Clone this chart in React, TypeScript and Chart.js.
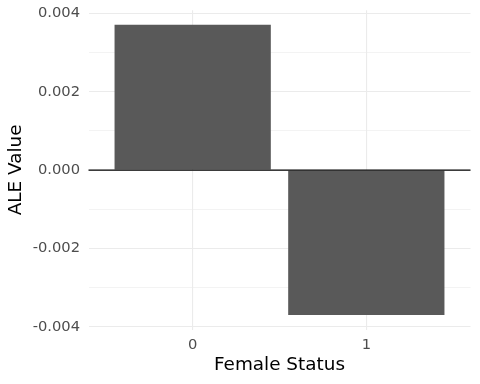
import React, { useEffect, useRef } from "react";
import { Chart, registerables } from "chart.js";

Chart.register(...registerables);

const categories: string[] = ["0", "1"];
const aleValues: number[] = [0.00371, -0.0037];
const yTickValues: number[] = [-0.004, -0.003, -0.002, -0.001, 0, 0.001, 0.002, 0.003, 0.004];
const yMin = -0.00407;
const yMax = 0.00408;
const xTitle = "Female Status";
const yTitle = "ALE Value";

const FONT = "'DejaVu Sans', sans-serif";
const GRID = "#EBEBEB";

const zeroLinePlugin = {
  id: "zeroLine",
  afterDatasetsDraw(chart: any) {
    const { ctx, chartArea, scales } = chart;
    const y = scales.y.getPixelForValue(0);
    ctx.save();
    ctx.strokeStyle = "#000000";
    ctx.lineWidth = 1.3;
    ctx.beginPath();
    ctx.moveTo(chartArea.left, y);
    ctx.lineTo(chartArea.right, y);
    ctx.stroke();
    ctx.restore();
  },
};

export default function App() {
  const ref = useRef<HTMLCanvasElement | null>(null);
  useEffect(() => {
    if (!ref.current) return;
    const data = categories.map((_, i) => ({ x: i, y: aleValues[i] }));
    const chart = new Chart(ref.current, {
      type: "bar",
      data: {
        datasets: [
          {
            data: data as any,
            backgroundColor: "#595959",
            borderWidth: 0,
            categoryPercentage: 1,
            barPercentage: 0.9,
          },
        ],
      },
      plugins: [zeroLinePlugin],
      options: {
        animation: false,
        responsive: false,
        devicePixelRatio: 1,
        layout: { padding: { left: 0, right: 9.5, top: 10.3, bottom: 0 } },
        plugins: { legend: { display: false }, tooltip: { enabled: false } },
        scales: {
          x: {
            type: "linear",
            min: -0.6,
            max: 1.6,
            offset: false,
            afterBuildTicks: (scale: any) => {
              scale.ticks = categories.map((_, i) => ({ value: i }));
            },
            afterFit: (scale: any) => {
              scale.height = 384 - 329.5;
              scale.paddingLeft = 0;
              scale.paddingRight = 0;
            },
            grid: { color: GRID, lineWidth: 1.1, drawTicks: false, offset: false },
            border: { display: false },
            ticks: {
              autoSkip: false,
              padding: 6.5,
              color: "#4D4D4D",
              font: { family: FONT, size: 14.7 },
              callback: (v: any) => categories[Math.round(Number(v))] ?? "",
            },
            title: {
              display: true,
              text: xTitle,
              color: "#000000",
              font: { family: FONT, size: 18.4 },
              padding: { top: 0, bottom: 8 },
            },
          },
          y: {
            type: "linear",
            min: yMin,
            max: yMax,
            afterBuildTicks: (scale: any) => {
              scale.ticks = yTickValues.map((v) => ({ value: v }));
            },
            afterFit: (scale: any) => {
              scale.width = 88.5;
              scale.paddingTop = 0;
              scale.paddingBottom = 0;
            },
            grid: {
              color: GRID,
              drawTicks: false,
              lineWidth: (ctx: any) => {
                const v = ctx.tick ? ctx.tick.value : 0;
                return Math.round(v * 1000) % 2 === 0 ? 1.1 : 0.6;
              },
            },
            border: { display: false },
            ticks: {
              autoSkip: false,
              padding: 8.5,
              color: "#4D4D4D",
              font: { family: FONT, size: 14.7 },
              callback: (v: any) => {
                const n = Number(v);
                return Math.round(n * 1000) % 2 === 0 ? n.toFixed(3) : "";
              },
            },
            title: {
              display: true,
              text: yTitle,
              color: "#000000",
              font: { family: FONT, size: 18.4 },
              padding: { top: 5.5, bottom: 0 },
            },
          },
        },
      },
    });
    return () => chart.destroy();
  }, []);
  return (
    <div style={{ position: "absolute", left: 0, top: 0, width: 480, height: 384, background: "#fff" }}>
      <canvas ref={ref} width={480} height={384} />
    </div>
  );
}
